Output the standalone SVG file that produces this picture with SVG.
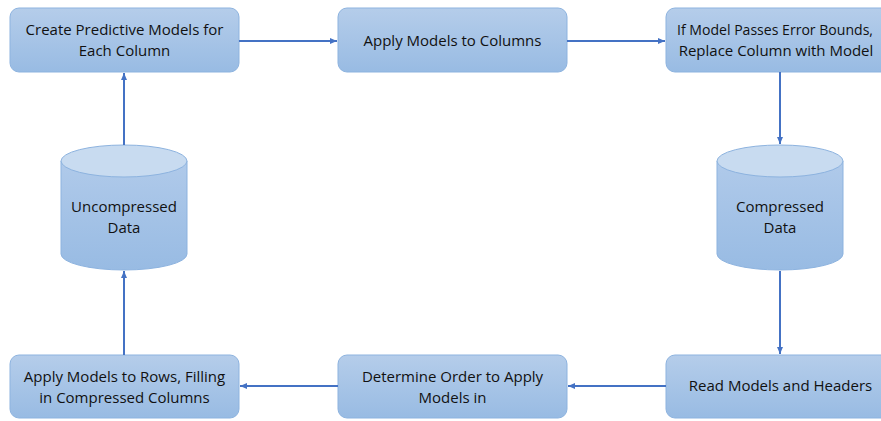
<svg xmlns="http://www.w3.org/2000/svg" width="881" height="421" viewBox="0 0 881 421">
<defs>
<linearGradient id="g" x1="0" y1="0" x2="0" y2="1">
<stop offset="0" stop-color="#b5cdea"/>
<stop offset="1" stop-color="#98bbe3"/>
</linearGradient>
<linearGradient id="gc" x1="0" y1="0" x2="0" y2="1">
<stop offset="0" stop-color="#b0caea"/>
<stop offset="1" stop-color="#98bbe3"/>
</linearGradient>
<marker id="a" markerWidth="8" markerHeight="8" refX="7" refY="4" orient="auto" markerUnits="userSpaceOnUse">
<path d="M0,1 L7,4 L0,7 Z" fill="#4472c4"/>
</marker>
<style>
.box{fill:url(#g);stroke:#8db3df;stroke-width:1}
.cyl{fill:url(#gc);stroke:#8db3df;stroke-width:1}
.top{fill:#c8dbf0;stroke:#8db3df;stroke-width:1}
.t{font-family:"Open Sans","Liberation Sans",sans-serif;font-size:15px;fill:#111111;text-anchor:middle}
.c{stroke:#4472c4;stroke-width:2;fill:none;marker-end:url(#a)}
</style>
</defs>
<rect width="881" height="421" fill="#ffffff"/>
<g id="n1"><rect class="box" x="10" y="8" width="229" height="64" rx="9"/><text class="t" x="124.5" y="35">Create Predictive Models for</text><text class="t" x="124.5" y="56">Each Column</text></g>
<g id="n2"><rect class="box" x="338" y="8" width="229" height="64" rx="9"/><text class="t" x="452.5" y="46">Apply Models to Columns</text></g>
<g id="n3"><rect class="box" x="666" y="8" width="229" height="64" rx="9"/><text class="t" x="775" y="35" textLength="196" lengthAdjust="spacingAndGlyphs">If Model Passes Error Bounds,</text><text class="t" x="776" y="56">Replace Column with Model</text></g>
<g id="n4"><path class="cyl" d="M61,161 V254 A63,16 0 0 0 187,254 V161"/><ellipse class="top" cx="124" cy="161" rx="63" ry="16"/><text class="t" x="124" y="212">Uncompressed</text><text class="t" x="124" y="233">Data</text></g>
<g id="n5"><path class="cyl" d="M717,161 V254 A63,16 0 0 0 843,254 V161"/><ellipse class="top" cx="780" cy="161" rx="63" ry="16"/><text class="t" x="780" y="212">Compressed</text><text class="t" x="780" y="233">Data</text></g>
<g id="n6"><rect class="box" x="10" y="355" width="229" height="63" rx="9"/><text class="t" x="124.5" y="382">Apply Models to Rows, Filling</text><text class="t" x="124.5" y="403">in Compressed Columns</text></g>
<g id="n7"><rect class="box" x="338" y="355" width="229" height="63" rx="9"/><text class="t" x="452.5" y="382">Determine Order to Apply</text><text class="t" x="452.5" y="403">Models in</text></g>
<g id="n8"><rect class="box" x="666" y="355" width="229" height="63" rx="9"/><text class="t" x="780.5" y="391">Read Models and Headers</text></g>
<g id="connectors">
<line class="c" x1="239" y1="41" x2="337" y2="41"/>
<line class="c" x1="567" y1="41" x2="665" y2="41"/>
<line class="c" x1="780" y1="72" x2="780" y2="144"/>
<line class="c" x1="780" y1="271" x2="780" y2="354"/>
<line class="c" x1="666" y1="386" x2="568" y2="386"/>
<line class="c" x1="338" y1="386" x2="240" y2="386"/>
<line class="c" x1="124" y1="355" x2="124" y2="271"/>
<line class="c" x1="124" y1="145" x2="124" y2="73"/>
</g>
</svg>
